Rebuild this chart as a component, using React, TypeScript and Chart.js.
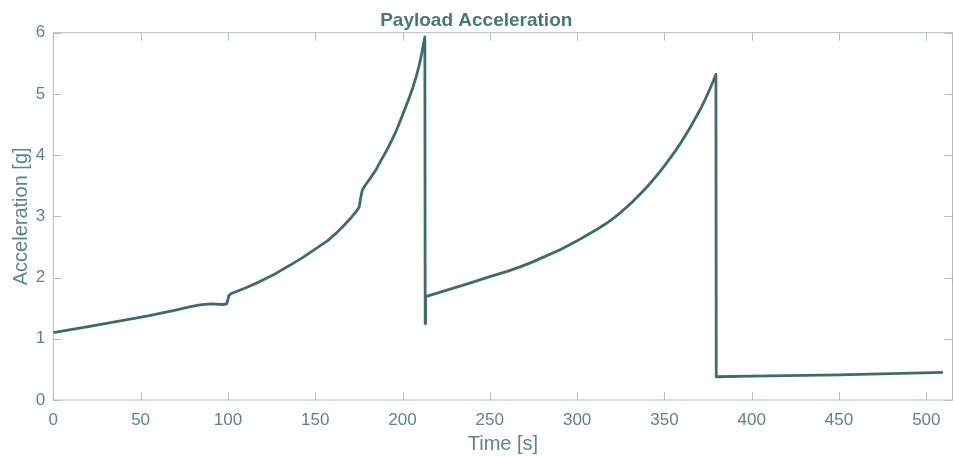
import React, { useEffect, useRef } from "react";
import { Chart, registerables } from "chart.js";

Chart.register(...registerables);

const timeS: number[] = [
  0, 20, 40, 55, 70, 78, 84, 90, 97, 99.3, 100, 100.6, 102,
  110, 118, 127, 135.5, 143, 150.8, 157, 162.2, 166, 170, 173, 175.2,
  176, 177, 178.5, 181.5, 185, 188, 191, 194, 196.6, 199, 201.5, 204, 206,
  208, 209.5, 211, 212.8, 213, 213.2,
  225, 238.5, 250, 260, 267, 275, 282, 290, 296, 300, 306, 311, 316, 320,
  324, 328, 332, 336, 340, 343.4, 347, 350, 353.5, 356.8, 359.5, 362, 365,
  368.3, 370.5, 372, 374, 375.9, 378, 379.5, 379.7, 400, 450, 509.5,
];
const accelG: number[] = [
  1.1, 1.2, 1.3, 1.38, 1.47, 1.52, 1.555, 1.57, 1.56, 1.57, 1.64, 1.71, 1.74,
  1.83, 1.93, 2.06, 2.2, 2.33, 2.48, 2.6, 2.73, 2.84, 2.96, 3.06, 3.15,
  3.3, 3.43, 3.5, 3.62, 3.77, 3.93, 4.08, 4.25, 4.41, 4.58, 4.76, 4.95, 5.11,
  5.3, 5.46, 5.66, 5.93, 1.25, 1.69,
  1.79, 1.91, 2.015, 2.1, 2.17, 2.26, 2.35, 2.45, 2.54, 2.6, 2.7, 2.78, 2.87,
  2.95, 3.04, 3.14, 3.245, 3.36, 3.48, 3.59, 3.715, 3.825, 3.96, 4.09, 4.205,
  4.32, 4.465, 4.63, 4.745, 4.83, 4.95, 5.07, 5.21, 5.32, 0.38, 0.39, 0.41, 0.45,
];

const xMin = 0;
const xMax = 515;
const xStep = 50;
const yMin = 0;
const yMax = 6;
const yStep = 1;

const titleText = "Payload Acceleration";
const xTitle = "Time [s]";
const yTitle = "Acceleration [g]";

const lineColor = "#3f6a6e";
const textColor = "#5f8488";
const titleColor = "#4b777b";
const axisColor = "#b0bfbf";
const fontFamily = "'Liberation Sans', Arial, Helvetica, sans-serif";

const boxTicksPlugin = {
  id: "boxTicks",
  beforeDatasetsDraw(chart: any) {
    const { ctx, chartArea: a, scales } = chart;
    const x = scales.x;
    const y = scales.y;
    const L = 8;
    ctx.save();
    ctx.strokeStyle = axisColor;
    ctx.lineWidth = 1;
    ctx.strokeRect(a.left, a.top, a.right - a.left, a.bottom - a.top);
    ctx.beginPath();
    x.ticks.forEach((t: any) => {
      const px = Math.round(x.getPixelForValue(t.value)) + 0.5;
      ctx.moveTo(px, a.bottom);
      ctx.lineTo(px, a.bottom - L);
      ctx.moveTo(px, a.top);
      ctx.lineTo(px, a.top + L);
    });
    y.ticks.forEach((t: any) => {
      const py = Math.round(y.getPixelForValue(t.value)) + 0.5;
      ctx.moveTo(a.left, py);
      ctx.lineTo(a.left + L, py);
      ctx.moveTo(a.right, py);
      ctx.lineTo(a.right - L, py);
    });
    ctx.stroke();
    ctx.restore();
  },
};

export default function App() {
  const canvasRef = useRef<HTMLCanvasElement | null>(null);

  useEffect(() => {
    if (!canvasRef.current) return;
    const points = timeS.map((t, i) => ({ x: t, y: accelG[i] }));
    const chart = new Chart(canvasRef.current, {
      type: "line",
      data: {
        datasets: [
          {
            data: points,
            borderColor: lineColor,
            borderWidth: 2.8,
            borderJoinStyle: "round",
            pointRadius: 0,
            tension: 0,
            fill: false,
          },
        ],
      },
      options: {
        animation: false,
        responsive: true,
        maintainAspectRatio: false,
        devicePixelRatio: 1,
        layout: { padding: { left: 0, right: 1.5, top: 0, bottom: 0 } },
        plugins: {
          legend: { display: false },
          tooltip: { enabled: false },
          title: {
            display: true,
            text: titleText,
            color: titleColor,
            font: { family: fontFamily, size: 19, weight: "bold" },
            padding: { top: 9.1, bottom: 0.8 },
          },
        },
        scales: {
          x: {
            type: "linear",
            min: xMin,
            max: xMax,
            grid: { display: false, drawTicks: false },
            border: { display: false },
            ticks: {
              stepSize: xStep,
              includeBounds: false,
              color: textColor,
              font: { family: fontFamily, size: 17 },
              padding: 10,
              maxRotation: 0,
            },
            title: {
              display: true,
              text: xTitle,
              color: textColor,
              font: { family: fontFamily, size: 20 },
              padding: { top: 0, bottom: 1 },
            },
            afterFit: (scale: any) => {
              scale.height = 57;
            },
          },
          y: {
            type: "linear",
            min: yMin,
            max: yMax,
            grid: { display: false, drawTicks: false },
            border: { display: false },
            ticks: {
              stepSize: yStep,
              color: textColor,
              font: { family: fontFamily, size: 17 },
              padding: 8,
            },
            title: {
              display: true,
              text: yTitle,
              color: textColor,
              font: { family: fontFamily, size: 20 },
              padding: { top: 9, bottom: 0 },
            },
            afterFit: (scale: any) => {
              scale.width = 53.3;
            },
          },
        },
      },
      plugins: [boxTicksPlugin],
    });
    return () => chart.destroy();
  }, []);

  return (
    <div
      style={{
        position: "fixed",
        left: 0,
        top: 0,
        width: "954px",
        height: "457px",
        background: "#ffffff",
      }}
    >
      <canvas ref={canvasRef} />
    </div>
  );
}
